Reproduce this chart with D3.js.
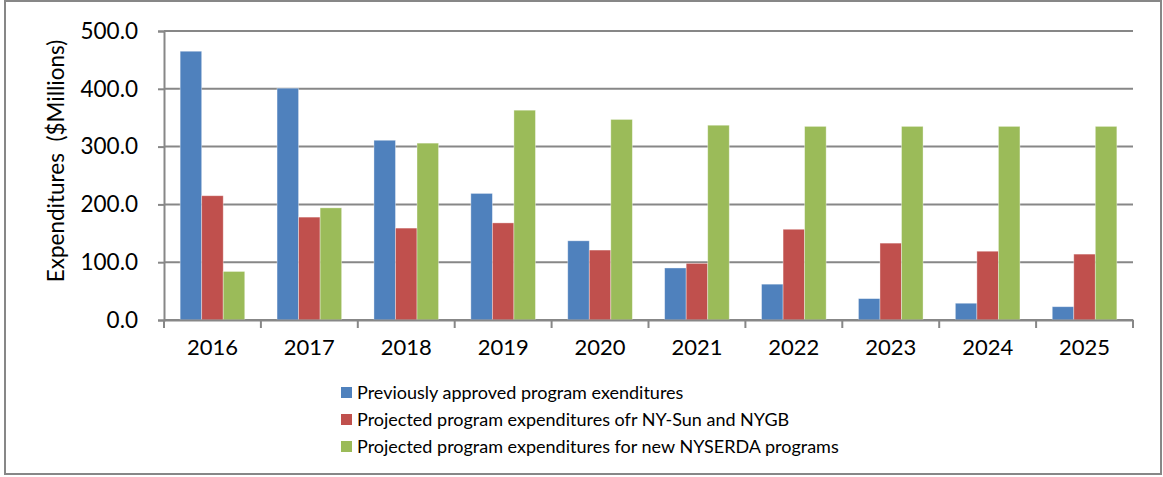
<!DOCTYPE html>
<html>
<head>
<meta charset="utf-8">
<script src="https://cdn.jsdelivr.net/npm/d3@7"></script>
<style>
  body { margin: 0; background: #fff; }
  svg { display: block; font-family: Lato, "Open Sans", sans-serif; }
</style>
</head>
<body>
<div id="chart"></div>
<script>
// data
var years = ['2016', '2017', '2018', '2019', '2020', '2021', '2022', '2023', '2024', '2025']
var seriesNames = [
  'Previously approved program exenditures',
  'Projected program expenditures ofr NY-Sun and NYGB',
  'Projected program expenditures for new NYSERDA programs'
]
var previouslyApproved = [465, 401, 311, 219, 137, 90, 62, 37, 29, 23]
var nySunNygb = [215, 178, 159, 168, 121, 98, 157, 133, 119, 114]
var newNyserda = [84, 194, 306, 363, 347, 337, 335, 335, 335, 335]
var yTicks = [0, 100, 200, 300, 400, 500]

var colors = ['#4F81BD', '#C0504D', '#9BBB59']
var allSeries = [previouslyApproved, nySunNygb, newNyserda]

drawChart()

function drawChart() {
  var width = 1163
  var height = 477
  var plotLeft = 164, plotRight = 1133, plotTop = 31, plotBottom = 320

  var svg = d3.select('#chart').append('svg')
    .attr('width', width)
    .attr('height', height)

  // outer frame
  svg.append('rect')
    .attr('x', 5)
    .attr('y', 1)
    .attr('width', 1156)
    .attr('height', 473)
    .attr('fill', '#fff')
    .attr('stroke', '#878787')
    .attr('stroke-width', 2)

  var x = d3.scaleBand()
    .domain(years)
    .range([plotLeft, plotRight])
    .padding(0)

  // gap width 150% -> 0.75 bar widths on each side
  var xInner = d3.scaleBand()
    .domain(d3.range(3))
    .range([0, x.bandwidth()])
    .paddingInner(0)
    .paddingOuter(0.75)

  var y = d3.scaleLinear()
    .domain([0, 500])
    .range([plotBottom, plotTop])

  // gridlines
  svg.append('g')
    .selectAll('line')
    .data(yTicks)
    .enter()
    .append('line')
    .attr('x1', plotLeft)
    .attr('x2', plotRight)
    .attr('y1', d => y(d))
    .attr('y2', d => y(d))
    .attr('stroke', '#878787')
    .attr('stroke-width', 2)

  // bars
  var groups = svg.append('g')
    .selectAll('g')
    .data(years)
    .enter()
    .append('g')
    .attr('transform', d => 'translate(' + x(d) + ',0)')

  groups.selectAll('rect')
    .data((d, i) => allSeries.map((s, k) => ({ k: k, value: s[i] })))
    .enter()
    .append('rect')
    .attr('x', d => xInner(d.k))
    .attr('width', xInner.bandwidth())
    .attr('y', d => y(d.value))
    .attr('height', d => y(0) - y(d.value))
    .attr('fill', d => colors[d.k])
    .attr('stroke', 'rgba(255,255,255,0.45)')
    .attr('stroke-width', 0.8)

  // y axis
  var yAxis = svg.append('g')
    .attr('transform', 'translate(' + plotLeft + ',0)')
    .call(d3.axisLeft(y).tickValues(yTicks).tickFormat(d3.format('.1f')).tickSize(6).tickPadding(20))
  yAxis.select('.domain').attr('stroke', '#878787').attr('stroke-width', 2)
  yAxis.selectAll('.tick line').attr('stroke', '#878787').attr('stroke-width', 2)
  yAxis.selectAll('.tick text')
    .attr('font-size', 22.5)
    .attr('font-family', 'Lato, sans-serif')
    .attr('fill', '#000')

  // x axis
  var xAxis = svg.append('g')
    .attr('transform', 'translate(0,' + plotBottom + ')')
    .call(d3.axisBottom(x).tickSize(0).tickPadding(19))
  xAxis.select('.domain').attr('stroke', '#878787').attr('stroke-width', 2)
  xAxis.selectAll('.tick text')
    .attr('font-size', 22)
    .attr('font-family', 'Lato, sans-serif')
    .attr('fill', '#000')

  // x tick marks between categories
  svg.append('g')
    .selectAll('line')
    .data(years.concat(['end']))
    .enter()
    .append('line')
    .attr('x1', d => d === 'end' ? plotRight : x(d))
    .attr('x2', d => d === 'end' ? plotRight : x(d))
    .attr('y1', plotBottom)
    .attr('y2', plotBottom + 8)
    .attr('stroke', '#878787')
    .attr('stroke-width', 2)

  // y title
  svg.append('text')
    .attr('transform', 'translate(64,161) rotate(-90)')
    .attr('text-anchor', 'middle')
    .attr('font-size', 22.5)
    .attr('fill', '#000')
    .style('white-space', 'pre')
    .text('Expenditures  ($Millions)')

  // legend
  var legend = svg.append('g')
    .selectAll('g')
    .data(seriesNames)
    .enter()
    .append('g')
    .attr('transform', (d, i) => 'translate(341,' + (393 + i * 27) + ')')

  legend.append('rect')
    .attr('x', 0)
    .attr('y', -6)
    .attr('width', 11)
    .attr('height', 11)
    .attr('fill', (d, i) => colors[i])

  legend.append('text')
    .attr('x', 16)
    .attr('y', 0)
    .attr('dy', '0.35em')
    .attr('font-size', 18)
    .attr('fill', '#000')
    .text(d => d)
}
</script>
</body>
</html>
